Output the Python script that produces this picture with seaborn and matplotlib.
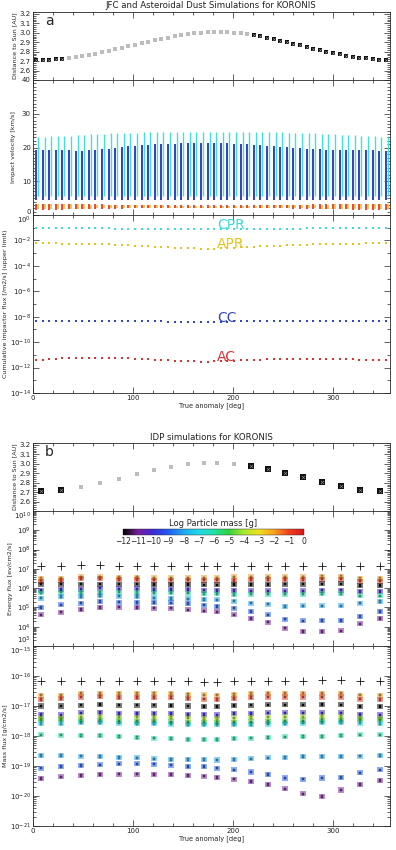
import numpy as np
import pandas as pd
import matplotlib
matplotlib.use('Agg')
import matplotlib.pyplot as plt
import seaborn as sns
from matplotlib.colors import LinearSegmentedColormap, Normalize
from matplotlib.cm import ScalarMappable
from matplotlib.ticker import FixedLocator, MultipleLocator, LogLocator, NullFormatter


# ---------------- panel a : JFC and asteroidal dust ----------------
anomaly_a = [3, 10, 16, 23, 29, 36, 43, 49, 56, 62, 69, 76, 82, 89, 95, 102, 109, 115,
             122, 128, 135, 142, 148, 155, 161, 168, 175, 181, 188, 194, 201, 208, 214,
             221, 227, 234, 241, 247, 254, 260, 267, 274, 280, 287, 293, 300, 307, 313,
             320, 326, 333, 340, 346, 353]

dist_a = [2.710, 2.711, 2.714, 2.720, 2.727, 2.735, 2.744, 2.754, 2.767, 2.780,
          2.795, 2.810, 2.825, 2.841, 2.856, 2.873, 2.890, 2.905, 2.921, 2.935,
          2.950, 2.963, 2.975, 2.986, 2.994, 3.001, 3.006, 3.008, 3.008, 3.005,
          3.000, 2.993, 2.984, 2.973, 2.961, 2.947, 2.932, 2.917, 2.900, 2.884,
          2.867, 2.850, 2.833, 2.817, 2.801, 2.786, 2.772, 2.759, 2.747, 2.737,
          2.728, 2.721, 2.716, 2.712]

# impact velocity ranges [km/s]
cpr_vmax = [23.2, 23.2, 23.3, 23.3, 23.4, 23.5, 23.6, 23.8, 23.9, 24.0,
            24.1, 24.2, 24.3, 24.3, 24.4, 24.4, 24.5, 24.5, 24.5, 24.5,
            24.6, 24.6, 24.6, 24.6, 24.6, 24.6, 24.7, 24.7, 24.7, 24.6,
            24.6, 24.6, 24.6, 24.6, 24.5, 24.5, 24.5, 24.5, 24.4, 24.4,
            24.3, 24.3, 24.2, 24.1, 24.0, 23.9, 23.8, 23.7, 23.6, 23.5,
            23.4, 23.3, 23.2, 23.2]
cc_vmax = [19.2, 19.2, 19.3, 19.3, 19.3, 19.2, 19.1, 19.1, 19.2, 19.3,
           19.5, 19.7, 19.9, 20.1, 20.3, 20.5, 20.6, 20.8, 20.9, 21.0,
           21.1, 21.1, 21.2, 21.2, 21.2, 21.3, 21.3, 21.3, 21.2, 21.2,
           21.1, 21.0, 20.9, 20.8, 20.7, 20.5, 20.4, 20.2, 20.1, 19.9,
           19.8, 19.7, 19.6, 19.5, 19.4, 19.3, 19.2, 19.2, 19.2, 19.3,
           19.3, 19.2, 19.1, 19.0]
CPR_VMIN = 5.5
CC_VMIN = 4.5
ac_vmax = [3.4, 3.4, 3.4, 3.4, 3.4, 3.3, 3.3, 3.3, 3.2, 3.2,
           3.2, 3.1, 3.1, 3.1, 3.0, 3.0, 3.0, 3.0, 2.9, 2.9,
           2.9, 2.9, 2.9, 2.9, 2.9, 2.9, 2.9, 2.9, 2.9, 2.9,
           2.9, 2.9, 2.9, 2.9, 2.9, 3.0, 3.0, 3.0, 3.0, 3.1,
           3.1, 3.1, 3.2, 3.2, 3.2, 3.3, 3.3, 3.3, 3.4, 3.4,
           3.4, 3.4, 3.4, 3.4]
ac_vmin = [1.6, 1.6, 1.6, 1.6, 1.6, 1.7, 1.7, 1.7, 1.8, 1.8,
           1.8, 1.9, 1.9, 1.9, 2.0, 2.0, 2.0, 2.0, 2.1, 2.1,
           2.1, 2.1, 2.1, 2.1, 2.1, 2.1, 2.1, 2.1, 2.1, 2.1,
           2.1, 2.1, 2.1, 2.1, 2.1, 2.0, 2.0, 2.0, 2.0, 1.9,
           1.9, 1.9, 1.8, 1.8, 1.8, 1.7, 1.7, 1.7, 1.6, 1.6,
           1.6, 1.6, 1.6, 1.6]
apr_vmax = [3.3, 3.3, 3.3, 3.3, 3.3, 3.2, 3.2, 3.2, 3.1, 3.1,
            3.1, 3.0, 3.0, 3.0, 3.0, 2.9, 2.9, 2.9, 2.9, 2.9,
            2.8, 2.8, 2.8, 2.8, 2.8, 2.8, 2.8, 2.8, 2.8, 2.8,
            2.8, 2.8, 2.8, 2.8, 2.9, 2.9, 2.9, 2.9, 3.0, 3.0,
            3.0, 3.0, 3.1, 3.1, 3.1, 3.2, 3.2, 3.2, 3.3, 3.3,
            3.3, 3.3, 3.3, 3.3]
apr_vmin = [1.8, 1.8, 1.8, 1.8, 1.8, 1.9, 1.9, 1.9, 1.9, 2.0,
            2.0, 2.0, 2.1, 2.1, 2.1, 2.1, 2.2, 2.2, 2.2, 2.2,
            2.2, 2.2, 2.2, 2.2, 2.2, 2.2, 2.2, 2.2, 2.2, 2.2,
            2.2, 2.2, 2.2, 2.2, 2.2, 2.2, 2.1, 2.1, 2.1, 2.1,
            2.0, 2.0, 2.0, 1.9, 1.9, 1.9, 1.9, 1.8, 1.8, 1.8,
            1.8, 1.8, 1.8, 1.8]

# cumulative impactor flux, log10 [/m2/s]
cpr_flux_exp = [-1.05, -1.05, -1.05, -1.05, -1.05, -1.05, -1.05, -1.06, -1.06, -1.06,
                -1.06, -1.06, -1.07, -1.07, -1.07, -1.07, -1.07, -1.08, -1.08, -1.08,
                -1.08, -1.08, -1.08, -1.08, -1.09, -1.09, -1.09, -1.09, -1.09, -1.09,
                -1.08, -1.08, -1.08, -1.08, -1.08, -1.08, -1.07, -1.07, -1.07, -1.07,
                -1.07, -1.06, -1.06, -1.06, -1.06, -1.06, -1.05, -1.05, -1.05, -1.05,
                -1.05, -1.05, -1.05, -1.05]
apr_flux_exp = [-2.24, -2.24, -2.24, -2.24, -2.25, -2.25, -2.26, -2.27, -2.28, -2.29,
                -2.30, -2.32, -2.34, -2.36, -2.38, -2.40, -2.42, -2.45, -2.48, -2.50,
                -2.53, -2.56, -2.58, -2.61, -2.63, -2.64, -2.65, -2.65, -2.63, -2.61,
                -2.58, -2.55, -2.52, -2.49, -2.46, -2.44, -2.42, -2.40, -2.38, -2.36,
                -2.34, -2.33, -2.32, -2.30, -2.29, -2.28, -2.27, -2.26, -2.25, -2.25,
                -2.24, -2.24, -2.24, -2.24]
cc_flux_exp = [-8.34, -8.34, -8.34, -8.33, -8.33, -8.33, -8.33, -8.33, -8.33, -8.33,
               -8.34, -8.34, -8.34, -8.35, -8.35, -8.35, -8.36, -8.36, -8.37, -8.37,
               -8.38, -8.38, -8.39, -8.39, -8.40, -8.40, -8.40, -8.40, -8.39, -8.38,
               -8.37, -8.36, -8.36, -8.35, -8.35, -8.34, -8.34, -8.33, -8.33, -8.33,
               -8.33, -8.33, -8.33, -8.33, -8.33, -8.34, -8.34, -8.34, -8.35, -8.35,
               -8.35, -8.35, -8.35, -8.35]
ac_flux_exp = [-11.40, -11.37, -11.34, -11.31, -11.28, -11.25, -11.23, -11.22, -11.21, -11.21,
               -11.22, -11.23, -11.24, -11.26, -11.28, -11.30, -11.32, -11.35, -11.38, -11.41,
               -11.44, -11.47, -11.49, -11.51, -11.52, -11.53, -11.53, -11.52, -11.50, -11.48,
               -11.46, -11.44, -11.42, -11.40, -11.38, -11.36, -11.35, -11.34, -11.33, -11.33,
               -11.32, -11.32, -11.32, -11.33, -11.33, -11.33, -11.34, -11.35, -11.36, -11.37,
               -11.38, -11.39, -11.40, -11.40]

# ---------------- panel b : IDP simulations ----------------
anomaly_b = [8, 28, 48, 67, 86, 104, 121, 138, 155, 171, 184, 201, 218, 235, 252, 270,
             289, 308, 327, 347]
dist_b = [2.710, 2.724, 2.752, 2.797, 2.838, 2.890, 2.934, 2.962, 2.993, 3.003,
          3.010, 3.000, 2.980, 2.940, 2.900, 2.860, 2.810, 2.765, 2.724, 2.717]

# energy flux, log10 [ev/cm2/s]; total (+) and per log particle mass
energy_total = [7.17, 7.17, 7.18, 7.18, 7.17, 7.17, 7.16, 7.16, 7.16, 7.15,
                7.15, 7.16, 7.16, 7.16, 7.17, 7.17, 7.17, 7.17, 7.16, 7.16]
efl_m2 = [6.49, 6.52, 6.58, 6.58, 6.56, 6.56, 6.53, 6.53, 6.53, 6.53,
          6.53, 6.58, 6.58, 6.58, 6.58, 6.58, 6.61, 6.61, 6.51, 6.51]
efl_m1 = [6.35, 6.39, 6.49, 6.49, 6.44, 6.44, 6.42, 6.42, 6.42, 6.42,
          6.42, 6.40, 6.44, 6.44, 6.44, 6.44, 6.47, 6.47, 6.37, 6.37]
efl_m12 = [6.21, 6.21, 6.21, 6.21, 6.21, 6.21, 6.18, 6.18, 6.18, 6.17,
           6.17, 6.18, 6.18, 6.18, 6.21, 6.21, 6.23, 6.23, 6.14, 6.14]
efl_m10 = [5.90, 5.93, 5.95, 6.00, 5.97, 5.97, 5.93, 5.93, 5.92, 5.90,
           5.88, 5.88, 5.86, 5.86, 5.86, 5.86, 5.90, 5.90, 5.83, 5.83]
efl_m6 = [5.78, 5.80, 5.78, 5.79, 5.79, 5.78, 5.76, 5.75, 5.74, 5.72,
          5.70, 5.67, 5.69, 5.69, 5.69, 5.69, 5.72, 5.72, 5.60, 5.60]
efl_m8 = [5.48, 5.57, 5.57, 5.62, 5.59, 5.56, 5.50, 5.47, 5.45, 5.42,
          5.40, 5.33, 5.22, 5.17, 5.05, 5.08, 5.08, 5.08, 5.22, 5.31]
efl_m9 = [4.99, 5.14, 5.22, 5.31, 5.28, 5.25, 5.25, 5.23, 5.20, 5.12,
          5.05, 4.96, 4.79, 4.61, 4.39, 4.30, 4.32, 4.32, 4.53, 4.79]
efl_m11 = [4.61, 4.75, 4.89, 5.00, 5.01, 5.00, 4.96, 4.96, 4.87, 4.82,
           4.77, 4.61, 4.42, 4.23, 3.92, 3.75, 3.75, 3.78, 4.15, 4.42]

# mass flux, log10 [g/cm2/s]
mass_total = [-16.16, -16.16, -16.15, -16.15, -16.15, -16.15, -16.15, -16.16, -16.16, -16.19,
              -16.20, -16.16, -16.15, -16.15, -16.15, -16.15, -16.14, -16.14, -16.16, -16.16]
mfl_m2 = [-16.64, -16.64, -16.57, -16.57, -16.59, -16.59, -16.59, -16.59, -16.61, -16.63,
          -16.64, -16.61, -16.59, -16.57, -16.57, -16.57, -16.57, -16.57, -16.64, -16.64]
mfl_m1 = [-16.78, -16.75, -16.70, -16.69, -16.72, -16.72, -16.72, -16.72, -16.75, -16.77,
          -16.78, -16.75, -16.72, -16.70, -16.70, -16.70, -16.70, -16.70, -16.77, -16.78]
mfl_m12 = [-17.00, -17.00, -16.97, -16.95, -16.97, -16.97, -16.97, -16.98, -17.00, -17.02,
           -17.02, -16.99, -16.97, -16.96, -16.96, -16.96, -16.95, -16.96, -17.01, -17.01]
mfl_m10 = [-17.28, -17.30, -17.23, -17.21, -17.25, -17.25, -17.25, -17.25, -17.28, -17.28,
           -17.30, -17.25, -17.25, -17.23, -17.23, -17.23, -17.23, -17.23, -17.28, -17.30]
mfl_m4 = [-17.40, -17.40, -17.36, -17.35, -17.37, -17.37, -17.38, -17.39, -17.40, -17.41,
          -17.42, -17.40, -17.38, -17.37, -17.36, -17.36, -17.35, -17.35, -17.40, -17.41]
mfl_m5 = [-17.46, -17.46, -17.48, -17.48, -17.50, -17.51, -17.52, -17.53, -17.54, -17.55,
          -17.55, -17.54, -17.53, -17.52, -17.51, -17.50, -17.49, -17.48, -17.46, -17.46]
mfl_m7 = [-17.58, -17.58, -17.56, -17.55, -17.57, -17.58, -17.59, -17.60, -17.61, -17.62,
          -17.63, -17.62, -17.61, -17.60, -17.58, -17.57, -17.56, -17.55, -17.57, -17.58]
mfl_m6 = [-17.96, -17.97, -17.99, -17.99, -18.02, -18.05, -18.07, -18.09, -18.12, -18.12,
          -18.12, -18.09, -18.07, -18.05, -18.03, -18.01, -18.01, -17.98, -17.96, -17.96]
mfl_m8 = [-18.65, -18.65, -18.67, -18.69, -18.71, -18.73, -18.76, -18.78, -18.79, -18.79,
          -18.80, -18.78, -18.76, -18.73, -18.71, -18.69, -18.69, -18.68, -18.67, -18.65]
mfl_m9 = [-19.07, -19.02, -18.99, -18.96, -18.93, -18.93, -18.94, -18.97, -19.01, -19.02,
          -19.07, -19.13, -19.20, -19.28, -19.40, -19.44, -19.40, -19.38, -19.23, -19.13]
mfl_m11 = [-19.42, -19.36, -19.31, -19.29, -19.27, -19.27, -19.28, -19.29, -19.32, -19.34,
           -19.38, -19.44, -19.51, -19.62, -19.76, -19.93, -20.02, -19.80, -19.62, -19.49]

mass_ticks = list(range(-12, 1))
mass_colors = ['#000000', '#7a1fa0', '#3a2ad8', '#1f5cf0', '#1fa8f0', '#20d8e8', '#20e0a8',
               '#30d040', '#a8e830', '#f0e020', '#f8a020', '#f04020', '#d81818']

# arc where the orbit is drawn in gray in the distance panels (deg)
GRAY_ARC = (33, 218)

# ---------------- styling ----------------
sns.set_style('ticks')
plt.rcParams['font.family'] = ['DejaVu Sans']
plt.rcParams['axes.linewidth'] = 0.6

W, H = 396, 850
fig = plt.figure(figsize=(W / 100, H / 100), dpi=100)


def px_axes(top, bottom, left=33, right=390):
    return fig.add_axes([left / W, 1 - bottom / H, (right - left) / W, (bottom - top) / H])


def idl_style(ax, xlabels=False):
    ax.set_xlim(0, 357)
    ax.xaxis.set_major_locator(MultipleLocator(100))
    ax.xaxis.set_minor_locator(MultipleLocator(20))
    ax.tick_params(which='both', direction='in', top=True, right=True,
                   labelsize=5, width=0.5, pad=1.5, colors='#222222')
    ax.tick_params(which='major', length=4)
    ax.tick_params(which='minor', length=2)
    if xlabels:
        ax.set_xlabel('True anomaly [deg]', fontsize=4.8, labelpad=1)
    else:
        ax.tick_params(axis='x', labelbottom=False)
    for s in ax.spines.values():
        s.set_linewidth(0.6)
    ax.set_facecolor('white')


def distance_panel(ax, ang, dist, size, letter):
    df = pd.DataFrame({'anomaly': ang, 'distance': dist})
    gray = (df['anomaly'] > GRAY_ARC[0]) & (df['anomaly'] < GRAY_ARC[1])
    sns.scatterplot(data=df[gray], x='anomaly', y='distance', ax=ax, marker='s',
                    s=size * 0.7, color='#bdbdbd', linewidth=0, legend=False)
    sns.scatterplot(data=df[~gray], x='anomaly', y='distance', ax=ax, marker='s',
                    s=size, color='#111111', linewidth=0, legend=False)
    sns.scatterplot(data=df[~gray], x='anomaly', y='distance', ax=ax, marker='x',
                    s=size * 0.3, color='#9a9a9a', linewidth=0.4, legend=False)
    ax.set_ylim(2.5, 3.22)
    ax.set_yticks([2.6, 2.7, 2.8, 2.9, 3.0, 3.1, 3.2])
    ax.yaxis.set_minor_locator(MultipleLocator(0.02))
    ax.set_ylabel('Distance to Sun [AU]', fontsize=4.6, labelpad=2)
    ax.set_xlabel('')
    ax.text(12, 3.12, letter, fontsize=10, va='center')
    idl_style(ax)


def log_axis(ax, lo, hi, labeled):
    ax.set_yscale('log')
    ax.set_ylim(10.0 ** lo, 10.0 ** hi)
    ax.yaxis.set_major_locator(FixedLocator([10.0 ** e for e in labeled]))
    ax.yaxis.set_minor_locator(LogLocator(base=10, subs=np.arange(2, 10), numticks=40))
    ax.yaxis.set_minor_formatter(NullFormatter())


# ======== panel a ========
fig.text(211 / W, 1 - 6 / H, 'JFC and Asteroidal Dust Simulations for KORONIS',
         ha='center', va='center', fontsize=6.2, color='#222222')

ax1 = px_axes(12, 80)
distance_panel(ax1, anomaly_a, dist_a, 10, 'a')

ax2 = px_axes(80, 215)
ang = np.array(anomaly_a, dtype=float)
ax2.vlines(ang, CC_VMIN, cc_vmax, color='#3545c6', lw=1.45)
ax2.vlines(ang + 2.2, CPR_VMIN, cpr_vmax, color='#40e0dc', lw=1.0)
ax2.vlines(ang, ac_vmin, ac_vmax, color='#e03a26', lw=1.3)
ax2.vlines(ang + 2.2, apr_vmin, apr_vmax, color='#f2c040', lw=1.3)
ax2.set_ylim(0, 40)
ax2.set_yticks([0, 10, 20, 30, 40])
ax2.yaxis.set_minor_locator(MultipleLocator(1))
ax2.set_ylabel('Impact velocity [km/s]', fontsize=4.6, labelpad=4)
idl_style(ax2)
ax2.yaxis.get_major_ticks()[0].label1.set_va('bottom')

ax3 = px_axes(215, 393)
flux_series = [('CPR', cpr_flux_exp, '#3fdcd6'), ('APR', apr_flux_exp, '#e8c21c'),
               ('CC', cc_flux_exp, '#3347c4'), ('AC', ac_flux_exp, '#d93232')]
for name, vals, col in flux_series:
    fdf = pd.DataFrame({'anomaly': anomaly_a, 'flux': 10.0 ** np.array(vals)})
    sns.scatterplot(data=fdf, x='anomaly', y='flux', ax=ax3, marker='s', s=3.5,
                    color=col, linewidth=0, legend=False)
    ax3.text(184, 10.0 ** (vals[27] + 0.33), name, color=col, fontsize=10,
             va='center', ha='left')
log_axis(ax3, -14, 0, range(-14, 1, 2))
ax3.yaxis.set_minor_locator(FixedLocator([10.0 ** e for e in range(-13, 0, 2)]))
ax3.set_ylabel('Cumulative impactor flux [/m2/s] (upper limit)', fontsize=4.6, labelpad=1)
idl_style(ax3, xlabels=True)
ax3.yaxis.get_major_ticks()[-1].label1.set_va('top')

# ======== panel b ========
fig.text(211 / W, 1 - 437 / H, 'IDP simulations for KORONIS',
         ha='center', va='center', fontsize=6.2, color='#222222')

ax4 = px_axes(443, 511)
distance_panel(ax4, anomaly_b, dist_b, 18, 'b')

cmap = LinearSegmentedColormap.from_list('idl_rainbow', mass_colors)
norm = Normalize(-12, 0)


def mass_frame(rows):
    parts = [pd.DataFrame({'anomaly': anomaly_b, 'logmass': m, 'flux': 10.0 ** np.array(v)})
             for m, v in rows]
    return pd.concat(parts, ignore_index=True)


def idp_scatter(ax, frame, total):
    sns.scatterplot(data=frame, x='anomaly', y='flux', hue='logmass', palette=cmap,
                    hue_norm=norm, marker='s', s=13, alpha=0.5, linewidth=0,
                    legend=False, ax=ax)
    sns.scatterplot(data=frame, x='anomaly', y='flux', hue='logmass', palette=cmap,
                    hue_norm=norm, marker='s', s=3, linewidth=0.3, edgecolor='#202020',
                    legend=False, ax=ax)
    tdf = pd.DataFrame({'anomaly': anomaly_b, 'flux': 10.0 ** np.array(total)})
    sns.scatterplot(data=tdf, x='anomaly', y='flux', marker='+', s=34, color='#111111',
                    linewidth=0.6, legend=False, ax=ax)
    ax.set_xlabel('')


ax5 = px_axes(511, 646)
energy_rows = [(-2, efl_m2), (-1, efl_m1), (-12, efl_m12), (-10, efl_m10), (-6, efl_m6),
               (-8, efl_m8), (-9, efl_m9), (-11, efl_m11)]
idp_scatter(ax5, mass_frame(energy_rows), energy_total)
log_axis(ax5, 3, 10, range(3, 11))
ax5.set_ylabel('Energy flux [ev/cm2/s]', fontsize=4.6, labelpad=1)
idl_style(ax5)
ax5.yaxis.get_major_ticks()[0].label1.set_va('bottom')
ax5.yaxis.get_major_ticks()[-1].label1.set_va('top')

cax = fig.add_axes([123 / W, 1 - 535 / H, (304 - 123) / W, 6 / H])
cb = fig.colorbar(ScalarMappable(norm=norm, cmap=cmap), cax=cax, orientation='horizontal')
cb.set_ticks(mass_ticks)
cb.outline.set_linewidth(0.3)
cax.tick_params(length=0, labelsize=5.5, pad=1.5)
cax.set_title('Log Particle mass [g]', fontsize=6, pad=2.5)

ax6 = px_axes(646, 826)
mass_rows = [(-2, mfl_m2), (-1, mfl_m1), (-12, mfl_m12), (-10, mfl_m10), (-4, mfl_m4),
             (-5, mfl_m5), (-7, mfl_m7), (-6, mfl_m6), (-8, mfl_m8), (-9, mfl_m9),
             (-11, mfl_m11)]
idp_scatter(ax6, mass_frame(mass_rows), mass_total)
log_axis(ax6, -21, -15, range(-21, -14))
ax6.set_ylabel('Mass flux [g/cm2/s]', fontsize=4.6, labelpad=1)
idl_style(ax6, xlabels=True)
ax6.yaxis.get_major_ticks()[-1].label1.set_va('top')

fig.savefig('out.png', dpi=100)
